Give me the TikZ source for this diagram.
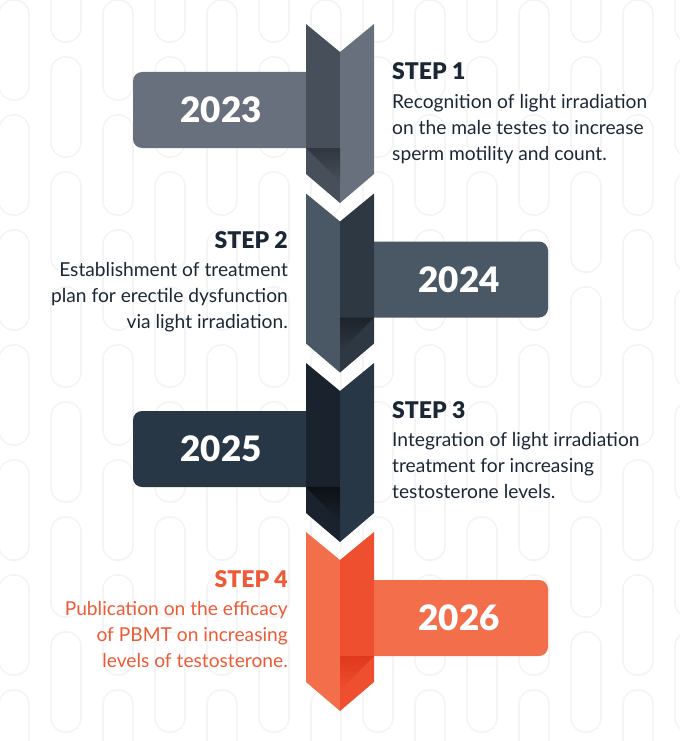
\documentclass[tikz,border=0pt]{standalone}
\usepackage{fontspec}
\setmainfont{Lato}
\newfontfamily\heavyfont{Lato Black}
\usetikzlibrary{positioning}

\definecolor{segAl}{HTML}{474F5A}
\definecolor{segAr}{HTML}{67707C}
\definecolor{segBl}{HTML}{4A5866}
\definecolor{segBr}{HTML}{2E3843}
\definecolor{segCl}{HTML}{1A222D}
\definecolor{segCr}{HTML}{283746}
\definecolor{segDl}{HTML}{F36F4C}
\definecolor{segDr}{HTML}{EE4F2F}
\definecolor{foldA}{HTML}{30363E}
\definecolor{foldB}{HTML}{1D232B}
\definecolor{foldC}{HTML}{0D1116}
\definecolor{foldD}{HTML}{E0381D}
\definecolor{ink}{HTML}{1C2735}
\definecolor{flame}{HTML}{EE5A36}
\definecolor{patgray}{HTML}{F4F4F4}

\begin{document}
\begin{tikzpicture}[x=1pt, y=-1pt,
    yeartext/.style={font=\fontsize{35}{35}\selectfont\heavyfont, text=white, inner sep=0pt},
    steptitle/.style={font=\fontsize{23}{23}\selectfont\heavyfont, text=ink, inner sep=0pt},
    stepbody/.style={font=\fontsize{19.2}{26}\selectfont, text=ink, inner sep=0pt}]

    \useasboundingbox (0,0) rectangle (680,741);

    % Background pattern
    \begin{scope}
        \clip (0,0) rectangle (680,741);
        \foreach \i in {0,...,13} {
            \foreach \j in {-1,...,7} {
                \pgfmathsetmacro{\cx}{14+52*\i}
                \pgfmathsetmacro{\cy}{115*\j+57*mod(\i,2)}
                \draw[patgray, line width=1.6pt, rounded corners=14pt] (\cx-15,\cy) rectangle (\cx+15,\cy+100);
            }
        }
    \end{scope}

    % Year boxes (behind the column)
    \fill[segAr, rounded corners=9pt] (133,72) rectangle (330,148);
    \fill[segBl, rounded corners=9pt] (350,241.5) rectangle (548,317.5);
    \fill[segCr, rounded corners=9pt] (133,411) rectangle (330,487);
    \fill[segDl, rounded corners=9pt] (350,580) rectangle (548,656);

    % Column of chevrons
    \foreach \T/\cl/\cr in {24/segAl/segAr, 193.5/segBl/segBr, 363/segCl/segCr, 532/segDl/segDr} {
        \fill[\cl] (306,\T) -- (340,\T+28) -- (340,\T+179) -- (306,\T+150) -- cycle;
        \fill[\cr] (340,\T+28) -- (374,\T) -- (374,\T+150) -- (340,\T+179) -- cycle;
    }

    % Folds under the boxes
    \shade[top color=foldA, bottom color=segAl] (306,148) -- (340,148) -- (340,182) -- cycle;
    \shade[top color=foldB, bottom color=segBr] (374,317.5) -- (340,317.5) -- (340,351.5) -- cycle;
    \shade[top color=foldC, bottom color=segCl] (306,487) -- (340,487) -- (340,521) -- cycle;
    \shade[top color=foldD, bottom color=segDr] (374,656) -- (340,656) -- (340,690) -- cycle;

    % Years
    \node[yeartext] (y2023) at (221,110) {2023};
    \node[yeartext] (y2024) at (459,279.5) {2024};
    \node[yeartext] (y2025) at (221,449) {2025};
    \node[yeartext] (y2026) at (459,618) {2026};

    % Step texts
    \node[steptitle, anchor=base west] (s1) at (392,80) {STEP 1};
    \node[stepbody, anchor=north west, align=left] (b1) at (392,94)
        {Recognition of light irradiation\\on the male testes to increase\\sperm motility and count.};

    \node[steptitle, anchor=base east] (s2) at (288,248) {STEP 2};
    \node[stepbody, anchor=north east, align=right] (b2) at (288,262)
        {Establishment of treatment\\plan for erectile dysfunction\\via light irradiation.};

    \node[steptitle, anchor=base west] (s3) at (392,418) {STEP 3};
    \node[stepbody, anchor=north west, align=left] (b3) at (392,432)
        {Integration of light irradiation\\treatment for increasing\\testosterone levels.};

    \node[steptitle, anchor=base east, text=flame] (s4) at (288,587) {STEP 4};
    \node[stepbody, anchor=north east, align=right, text=flame] (b4) at (288,601)
        {Publication on the efficacy\\of PBMT on increasing\\levels of testosterone.};
\end{tikzpicture}
\end{document}
